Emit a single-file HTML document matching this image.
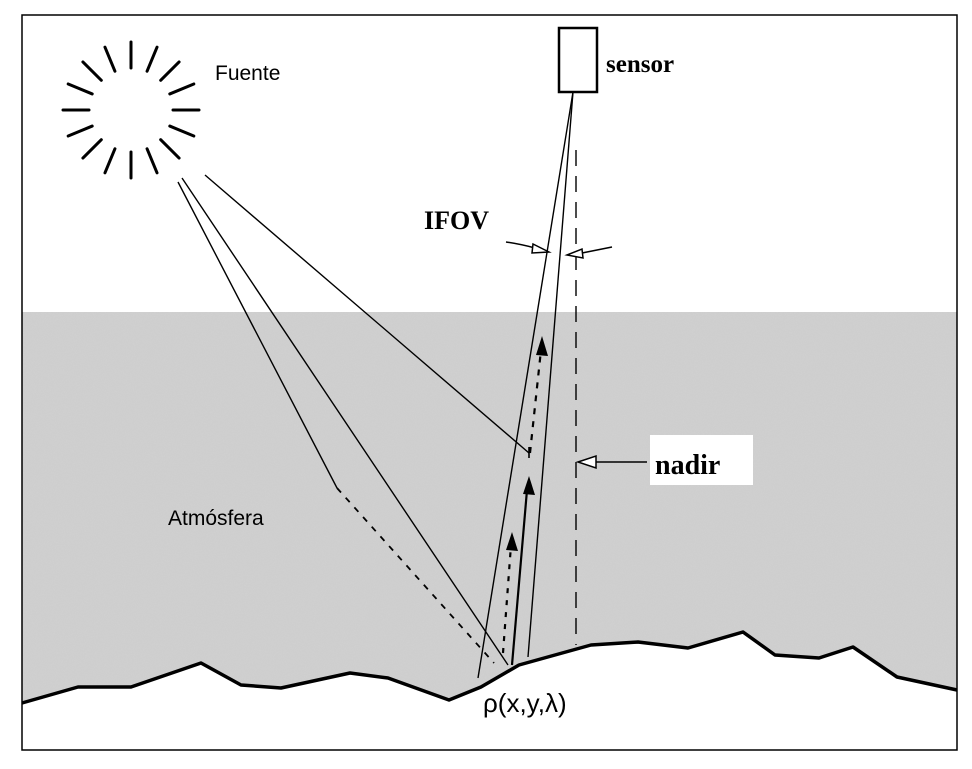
<!DOCTYPE html>
<html><head><meta charset="utf-8"><style>
html,body{margin:0;padding:0;background:#fff}
svg{display:block}
</style></head><body>
<svg width="972" height="769" viewBox="0 0 972 769" xmlns="http://www.w3.org/2000/svg">
<defs>
<filter id="noise" x="0" y="0" width="100%" height="100%">
<feTurbulence type="fractalNoise" baseFrequency="0.9" numOctaves="2" seed="3"/>
<feColorMatrix type="matrix" values="0 0 0 0 0.78  0 0 0 0 0.78  0 0 0 0 0.78  0 0 0 0.25 0"/>
</filter>
</defs>
<rect x="0" y="0" width="972" height="769" fill="#fff"/>
<rect x="22" y="312" width="935" height="400" fill="#cdcdcd"/>
<rect x="22" y="312" width="935" height="400" filter="url(#noise)" opacity="0.6"/>
<polygon fill="#fff" points="22,703 78,687 131,687 201,663 241,685 281,688 350,673 388,678 449,700 481,687 519,665 591,645 638,642 688,648 743,632 775,655 819,658 853,647 897,677 957,690 957,750 22,750"/>
<polyline fill="none" stroke="#000" stroke-width="3.5" stroke-linejoin="round" points="22,703 78,687 131,687 201,663 241,685 281,688 350,673 388,678 449,700 481,687 519,665 591,645 638,642 688,648 743,632 775,655 819,658 853,647 897,677 957,690"/>
<rect x="22" y="15" width="935" height="735" fill="none" stroke="#000" stroke-width="1.5"/>
<g stroke="#000" stroke-width="3" stroke-linecap="round" id="sun"></g>
<text x="215" y="80" font-family="Liberation Sans, sans-serif" font-size="21" fill="#000">Fuente</text>
<rect x="559" y="28" width="38" height="64" fill="#fff" stroke="#000" stroke-width="2.5"/>
<text x="606" y="72" font-family="Liberation Serif, serif" font-weight="bold" font-size="25" fill="#000">sensor</text>
<g stroke="#000" stroke-width="1.4" fill="none">
<line x1="178" y1="182" x2="337" y2="488"/>
<line x1="337" y1="488" x2="494" y2="663" stroke-dasharray="6,7" stroke-width="1.8"/>
<line x1="182" y1="178" x2="508" y2="665"/>
<line x1="205" y1="175" x2="529" y2="453"/>
<line x1="529" y1="447" x2="529" y2="458" stroke-width="1.6"/>
<line x1="573" y1="92" x2="478" y2="678"/>
<line x1="573" y1="92" x2="528" y2="657"/>
<line x1="576" y1="150" x2="576" y2="645" stroke-dasharray="16,10" stroke-width="1.4"/>
</g>
<g stroke="#000" stroke-width="2.2" fill="none">
<line x1="530" y1="453" x2="541" y2="350" stroke-dasharray="6,7"/>
<line x1="512" y1="665" x2="527" y2="490"/>
<line x1="503" y1="653" x2="511" y2="545" stroke-dasharray="5,7"/>
</g>
<polygon points="542,336 536,355 548,356" fill="#000"/>
<polygon points="529,476 523,494 535,495" fill="#000"/>
<polygon points="512,532 506,550 518,551" fill="#000"/>
<text x="424" y="229" font-family="Liberation Serif, serif" font-weight="bold" font-size="26" fill="#000">IFOV</text>
<g stroke="#000" stroke-width="1.5" fill="#fff">
<path d="M506,242 Q520,244 535,248" fill="none"/>
<polygon points="549,252 533,244 532,253"/>
<line x1="612" y1="247" x2="582" y2="253"/>
<polygon points="567,255 582,249 583,258"/>
</g>
<rect x="650" y="435" width="103" height="50" fill="#fff"/>
<text x="655" y="474" font-family="Liberation Serif, serif" font-weight="bold" font-size="28" fill="#000">nadir</text>
<line x1="647" y1="462" x2="595" y2="462" stroke="#000" stroke-width="1.5"/>
<polygon points="578,462 596,456 596,468" fill="#fff" stroke="#000" stroke-width="1.5"/>
<text x="168" y="525" font-family="Liberation Sans, sans-serif" font-size="21" fill="#000">Atmósfera</text>
<text x="483" y="712" font-family="Liberation Sans, sans-serif" font-size="26" fill="#000">ρ(x,y,λ)</text>
</svg>
<script>
var g=document.getElementById('sun');
var cx=131,cy=110,r1=42,r2=68;
for(var i=0;i<16;i++){
  var a=i*Math.PI/8;
  var l=document.createElementNS('http://www.w3.org/2000/svg','line');
  l.setAttribute('x1',cx+r1*Math.cos(a));l.setAttribute('y1',cy+r1*Math.sin(a));
  l.setAttribute('x2',cx+r2*Math.cos(a));l.setAttribute('y2',cy+r2*Math.sin(a));
  
  
  g.appendChild(l);
}
</script>
</body></html>
